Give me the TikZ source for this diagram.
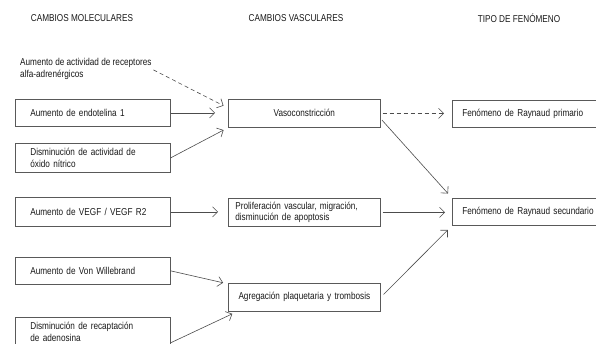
\documentclass[tikz,border=0pt]{standalone}
\usepackage{fontspec}
\setmainfont[FakeStretch=0.82]{Liberation Sans}
\usetikzlibrary{arrows.meta}
\begin{document}
\begin{tikzpicture}[x=1pt,y=-1pt,
  font=\fontsize{10}{11.5}\selectfont, text=black!90,
  caja/.style={draw=black!65, line width=0.7pt, anchor=north west, inner ysep=0pt},
  molec/.style={caja, minimum width=155pt, text width=125pt, inner xsep=15pt, align=left},
  vasc/.style={caja, minimum width=152pt, text width=146pt, inner xsep=3pt, align=center},
  vascizq/.style={caja, minimum width=152pt, text width=138pt, inner xsep=7pt, align=left},
  fenom/.style={caja, minimum width=170pt, text width=150pt, inner xsep=10pt, align=left},
  titulo/.style={inner sep=0pt},
  flecha/.style={-{Straight Barb[length=5pt,width=10pt]}, draw=black!70, line width=0.6pt},
  discont/.style={flecha, dash pattern=on 4pt off 3pt}]
\clip (0,0) rectangle (596,344);

\node[titulo] (tmolec) at (82,18) {CAMBIOS MOLECULARES};
\node[titulo] (tvasc) at (296,18) {CAMBIOS VASCULARES};
\node[titulo] (tfenom) at (519,18) {TIPO DE FENÓMENO};

\node[titulo, anchor=west, align=left] (alfa) at (20,69) {Aumento de actividad de receptores\\alfa-adrenérgicos};
\node[molec, minimum height=27pt] (endo) at (15,99) {Aumento de endotelina 1};
\node[molec, minimum height=29pt] (oxido) at (15,143) {Disminución de actividad de\\óxido nítrico};
\node[molec, minimum height=29pt] (vegf) at (15,197) {Aumento de VEGF / VEGF R2};
\node[molec, minimum height=27pt] (willebrand) at (15,257) {Aumento de Von Willebrand};
\node[molec, minimum height=29pt] (adenosina) at (15,317) {Disminución de recaptación\\de adenosina};

\node[vasc, minimum height=28pt] (vaso) at (228,99) {Vasoconstricción};
\node[vascizq, minimum height=28pt] (prolif) at (228,198) {Proliferación vascular, migración,\\disminución de apoptosis};
\node[vasc, minimum height=28pt] (agreg) at (228,283) {Agregación plaquetaria y trombosis};

\node[fenom, minimum height=27pt] (primario) at (452,100) {Fenómeno de Raynaud primario};
\node[fenom, minimum height=27pt] (secundario) at (452,198) {Fenómeno de Raynaud secundario};

\draw[discont, shorten <=2pt, shorten >=5pt] (alfa.east) -- (vaso.176);
\draw[flecha, shorten >=13pt] (endo.east) -- (endo.east -| vaso.west);
\draw[flecha, shorten >=5pt] (oxido.east) -- (vaso.south west);
\draw[flecha, shorten >=10pt] (vegf.east) -- (vegf.east -| prolif.west);
\draw[flecha, shorten >=5pt] (willebrand.east) -- (agreg.170);
\draw[flecha, shorten >=5pt] (adenosina.-8) -- (agreg.192);

\draw[discont, shorten <=2pt, shorten >=8pt] (vaso.east) -- (vaso.east -| primario.west);
\draw[flecha, shorten <=2pt, shorten >=6pt] (vaso.-4) -- (secundario.north west);
\draw[flecha, shorten <=2pt, shorten >=7pt] (prolif.east) -- (prolif.east -| secundario.west);
\draw[flecha, shorten <=4pt, shorten >=6pt] (agreg.east) -- (secundario.south west);
\end{tikzpicture}
\end{document}
